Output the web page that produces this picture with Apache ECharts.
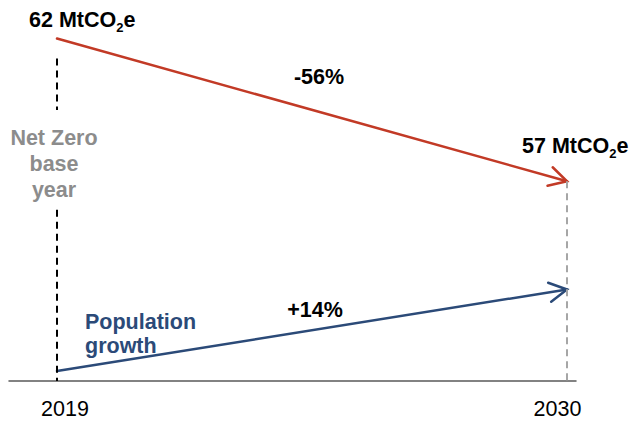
<!DOCTYPE html>
<html>
<head>
<meta charset="utf-8">
<script src="https://cdn.jsdelivr.net/npm/echarts@6/dist/echarts.min.js"></script>
<style>
  html, body { margin: 0; padding: 0; background: #ffffff; }
  #chart { width: 633px; height: 421px; }
</style>
</head>
<body>
<div id="chart"></div>
<script>
// Years at the start and end of the pathway
const years = [2019, 2030];
const yearLabels = ['2019', '2030'];
// Emissions pathway, MtCO2e
const emissions = [62, 57];
// Population, index with 2019 = 100
const population = [100, 114];
// Change over the period
const changeLabels = ['-56%', '+14%'];
// Annotation texts
const baseYearLabel = ['Net Zero', 'base', 'year'];
const populationLabel = ['Population', 'growth'];

const RED = '#c23a26';
const NAVY = '#2b4a78';
const FONT = '"Liberation Sans", Arial, sans-serif';
const FS = 21.5;

const chart = echarts.init(document.getElementById('chart'), null, { renderer: 'svg' });

// A straight arrow from (x0, y0) to (x1, y1) with an open chevron head
function arrowRenderer(color) {
  return function (params, api) {
    const p0 = api.coord([api.value(0), api.value(1)]);
    const p1 = api.coord([api.value(2), api.value(3)]);
    const ang = Math.atan2(p1[1] - p0[1], p1[0] - p0[0]);
    const L = 20, A = 0.5;
    const h1 = [p1[0] - L * Math.cos(ang - A), p1[1] - L * Math.sin(ang - A)];
    const h2 = [p1[0] - L * Math.cos(ang + A), p1[1] - L * Math.sin(ang + A)];
    return {
      type: 'group',
      children: [
        { type: 'line', shape: { x1: p0[0], y1: p0[1], x2: p1[0], y2: p1[1] },
          style: { stroke: color, lineWidth: 2.5, lineCap: 'round' } },
        { type: 'polyline', shape: { points: [h1, p1, h2] },
          style: { stroke: color, lineWidth: 2.5, fill: null, lineJoin: 'miter', lineCap: 'round' } }
      ]
    };
  };
}

// "xx MtCO2e" with a lowered subscript 2
function mt(value) {
  return '{n|' + value + ' MtCO}{s|2}{n|e}';
}
const mtRich = {
  n: { fontFamily: FONT, fontSize: FS, fontWeight: 'bold', color: '#000', lineHeight: 28 },
  s: { fontFamily: FONT, fontSize: 13, fontWeight: 'bold', color: '#000', lineHeight: 10, verticalAlign: 'bottom' }
};

const option = {
  backgroundColor: '#ffffff',
  animation: false,
  grid: { left: 9, right: 57, top: 10, bottom: 40 },
  xAxis: {
    type: 'value',
    min: 2017.9647,
    max: 2030.1941,
    splitLine: { show: false },
    axisTick: { show: false },
    axisLine: { show: true, onZero: false, lineStyle: { color: '#595959', width: 1.5 } },
    axisLabel: {
      customValues: years,
      margin: 17,
      formatter: function (v) {
        const i = years.indexOf(v);
        return i === 0 ? '{l|' + yearLabels[0] + '}' : '{r|' + yearLabels[1] + '}';
      },
      rich: {
        l: { fontFamily: FONT, fontSize: FS, color: '#000', padding: [0, 0, 0, 16] },
        r: { fontFamily: FONT, fontSize: FS, color: '#000', padding: [0, 19, 0, 0] }
      }
    }
  },
  yAxis: [
    { type: 'value', min: 50, max: 63, show: false },
    { type: 'value', min: 98.28, max: 162.0, show: false }
  ],
  series: [
    {
      type: 'custom',
      name: 'Emissions',
      yAxisIndex: 0,
      renderItem: arrowRenderer(RED),
      data: [[years[0], emissions[0], years[1], emissions[1]]],
      silent: true,
      markLine: {
        silent: true,
        symbol: 'none',
        label: { show: false },
        data: [
          [{ coord: [years[0], 61.3] }, { coord: [years[0], 59.5] }],
          [{ coord: [years[0], 56.0] }, { coord: [years[0], 50] }]
        ],
        lineStyle: { color: '#000', width: 2, type: [7, 5] }
      }
    },
    {
      type: 'custom',
      name: 'End year',
      yAxisIndex: 0,
      renderItem: function () { return null; },
      data: [],
      markLine: {
        silent: true,
        symbol: 'none',
        label: { show: false },
        data: [[{ coord: [years[1], emissions[1]] }, { coord: [years[1], 50] }]],
        lineStyle: { color: '#a6a6a6', width: 2, type: [7, 5] }
      }
    },
    {
      type: 'custom',
      name: 'Population',
      yAxisIndex: 1,
      renderItem: arrowRenderer(NAVY),
      data: [[years[0], population[0], years[1], population[1]]],
      silent: true
    }
  ],
  graphic: [
    { type: 'text', x: 29, y: 20, silent: true,
      style: { text: mt(emissions[0]), rich: mtRich, verticalAlign: 'middle', align: 'left' } },
    { type: 'text', x: 522, y: 146, silent: true,
      style: { text: mt(emissions[1]), rich: mtRich, verticalAlign: 'middle', align: 'left' } },
    { type: 'text', x: 319, y: 77, silent: true,
      style: { text: changeLabels[0], font: 'bold ' + FS + 'px ' + FONT, fill: '#000', align: 'center', verticalAlign: 'middle' } },
    { type: 'text', x: 315, y: 310, silent: true,
      style: { text: changeLabels[1], font: 'bold ' + FS + 'px ' + FONT, fill: '#000', align: 'center', verticalAlign: 'middle' } },
    { type: 'text', x: 54, y: 164, silent: true,
      style: { text: baseYearLabel.join('\n'), font: 'bold ' + FS + 'px ' + FONT, lineHeight: 26,
               fill: '#8c8c8c', align: 'center', verticalAlign: 'middle' } },
    { type: 'text', x: 85, y: 334, silent: true,
      style: { text: populationLabel.join('\n'), font: 'bold ' + FS + 'px ' + FONT, lineHeight: 24,
               fill: NAVY, align: 'left', verticalAlign: 'middle' } }
  ]
};

chart.setOption(option);
</script>
</body>
</html>
